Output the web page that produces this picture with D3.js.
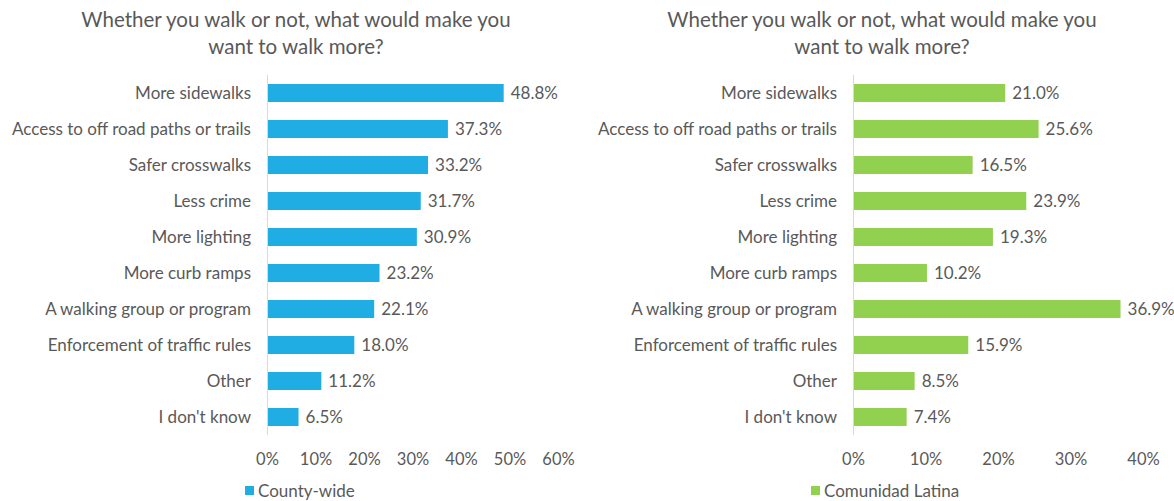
<!DOCTYPE html>
<html><head><meta charset="utf-8">
<script src="https://cdn.jsdelivr.net/npm/d3@7"></script>
<style>body{margin:0;background:#fff}text{font-family:Lato,"Open Sans",sans-serif;fill:#595959}</style>
</head><body><svg id="c" width="1174" height="501"></svg>
<script>
const categories = ["More sidewalks","Access to off road paths or trails","Safer crosswalks","Less crime","More lighting","More curb ramps","A walking group or program","Enforcement of traffic rules","Other","I don't know"];
const countyValues = [48.8,37.3,33.2,31.7,30.9,23.2,22.1,18.0,11.2,6.5];
const latinaValues = [21.0,25.6,16.5,23.9,19.3,10.2,36.9,15.9,8.5,7.4];
const countyTicks = [0,10,20,30,40,50,60];
const latinaTicks = [0,10,20,30,40];
const titleLines = ["Whether you walk or not, what would make you","want to walk more?"];

const svg = d3.select("#c");
function panel(x0, x1, maxV, ticks, values, color, seriesName, titleX, legendX){
  const g = svg.append("g");
  const x = d3.scaleLinear().domain([0,maxV]).range([x0,x1]);
  const y = d3.scaleBand().domain(categories).range([75,435]).paddingInner(0.5).paddingOuter(0.25);
  g.selectAll("text.t").data(titleLines).join("text").attr("x",titleX).attr("y",(d,i)=>27+i*27)
    .attr("text-anchor","middle").attr("font-size",20.5).text(d=>d);
  g.append("line").attr("x1",x0+0.5).attr("x2",x0+0.5).attr("y1",75).attr("y2",435).attr("stroke","#d9d9d9");
  g.selectAll("rect.b").data(values).join("rect").attr("x",x0+1).attr("y",(d,i)=>y(categories[i]))
    .attr("width",d=>x(d)-x0-1).attr("height",y.bandwidth()).attr("fill",color);
  g.selectAll("text.v").data(values).join("text").attr("x",d=>x(d)+7).attr("y",(d,i)=>y(categories[i])+y.bandwidth()/2)
    .attr("dy","0.35em").attr("font-size",17).text(d=>d.toFixed(1)+"%");
  g.selectAll("text.c").data(categories).join("text").attr("x",x0-16).attr("y",d=>y(d)+y.bandwidth()/2)
    .attr("dy","0.35em").attr("text-anchor","end").attr("font-size",17).text(d=>d);
  const ax = g.append("g").attr("transform","translate(0,450)").call(d3.axisBottom(x).tickValues(ticks).tickFormat(d=>d+"%").tickSize(0));
  ax.select(".domain").remove();
  ax.selectAll("text").attr("font-size",16.5).attr("dy","0.71em").style("font-family","Lato,sans-serif").attr("fill","#595959");
  g.append("rect").attr("x",legendX).attr("y",486).attr("width",9).attr("height",9).attr("fill",color);
  g.append("text").attr("x",legendX+13).attr("y",491).attr("dy","0.35em").attr("font-size",17).text(seriesName);
}
panel(267, 558, 60, countyTicks, countyValues, "#1fade4", "County-wide", 296, 245);
panel(853, 1143, 40, latinaTicks, latinaValues, "#92d050", "Comunidad Latina", 882, 811);
</script></body></html>
